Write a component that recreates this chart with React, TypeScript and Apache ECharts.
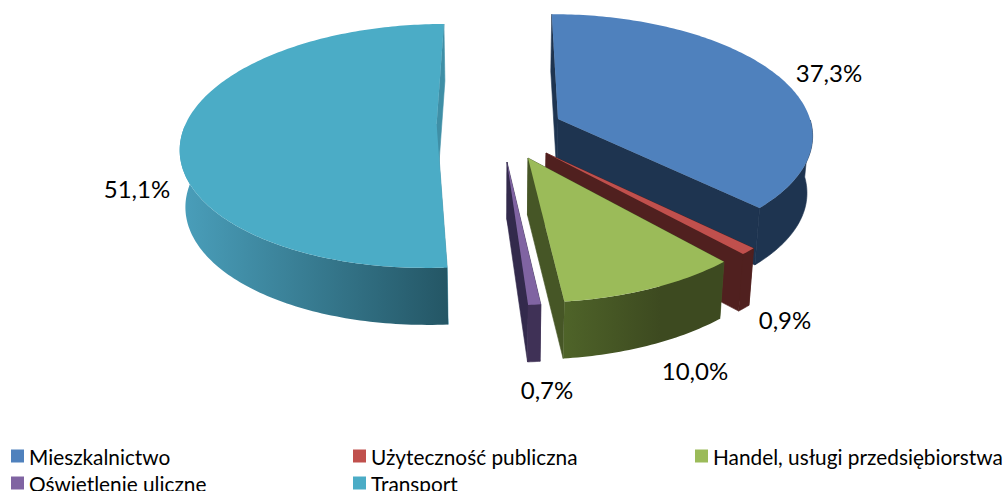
import React, { useEffect, useRef } from "react";
import * as echarts from "echarts";

const categories = ["Mieszkalnictwo", "Użyteczność publiczna", "Handel, usługi przedsiębiorstwa", "Oświetlenie uliczne", "Transport"];
const shares = [37.3, 0.9, 10.0, 0.7, 51.1];

const topColors = ["#4f81bd", "#c0504d", "#9bbb59", "#8064a2", "#4bacc6"];
const wallStops: [string, string][] = [
  ["#1e3450", "#1e3450"],
  ["#50201f", "#50201f"],
  ["#4f6429", "#3d4a20"],
  ["#3f3156", "#3f3156"],
  ["#4a9fbb", "#245665"],
];
const faceColors = ["#1e3450", "#50201f", "#465626", "#332a4c", "#3f8fa6"];
// Projection of each exploded slice: apex on screen, radii, perspective strength, convergence
const sliceFrames = [
  { tx: 558, ty: 119, a: 252, b: 117, k: 0.116, c: 60, gx0: 556, gx1: 810 },
  { tx: 546, ty: 153, a: 265, b: 127, k: 0.1, c: 48, gx0: 546, gx1: 753 },
  { tx: 528, ty: 158, a: 267, b: 131, k: 0.094, c: 30, gx0: 561, gx1: 660 },
  { tx: 507, ty: 162, a: 262, b: 129, k: 0.1, c: 9, gx0: 526, gx1: 540 },
  { tx: 436.6, ty: 124, a: 251, b: 118, k: 0.18, c: -48, gx0: 180, gx1: 448 },
];
const labelAnchors = [
  [829, 72],
  [785, 319],
  [695, 370],
  [547, 389],
  [137, 188],
];
const legendAnchors = [
  [11, 445.5],
  [353, 445.5],
  [695, 445.5],
  [11, 472.5],
  [353, 472.5],
];
const VANISH_X = 498;
const WALL = 57;
const WALL_LEAN = 0.018;
const FONT = "Lato";

const total = shares.reduce((s, v) => s + v, 0);
const starts: number[] = [];
shares.reduce((acc, v, i) => {
  starts[i] = acc;
  return acc + v;
}, 0);

function makeItem(i: number) {
  const f = sliceFrames[i];
  const t0 = (starts[i] / total) * Math.PI * 2;
  const t1 = ((starts[i] + shares[i]) / total) * Math.PI * 2;
  const top = (t: number): number[] => {
    const Y = -Math.cos(t);
    const s = 1 / (1 - f.k * Y);
    return [f.tx + f.a * Math.sin(t) * s + f.c * (s - 1), f.ty + f.b * Y * s];
  };
  const down = (p: number[]): number[] => [p[0] - (p[0] - VANISH_X) * WALL_LEAN, p[1] + WALL];
  const steps = Math.max(4, Math.ceil(((t1 - t0) * 180) / Math.PI));
  const arc: number[][] = [];
  const front: number[][] = [];
  for (let n = 0; n <= steps; n++) {
    const t = t0 + ((t1 - t0) * n) / steps;
    const p = top(t);
    arc.push(p);
    if (-Math.cos(t) >= 0) front.push(p);
  }
  const tip = [f.tx, f.ty];
  const tipB = down(tip);
  const first = arc[0];
  const last = arc[arc.length - 1];
  const poly = (points: number[][], fill: any, stroke?: string) => ({
    type: "polygon",
    shape: { points },
    style: stroke ? { fill, stroke, lineWidth: 0.6 } : { fill },
    silent: true,
  });
  const wallFill = new echarts.graphic.LinearGradient(f.gx0, 0, f.gx1, 0, [
    { offset: 0, color: wallStops[i][0] },
    { offset: 1, color: wallStops[i][1] },
  ], true);
  const solidWall = wallStops[i][0] === wallStops[i][1] ? wallStops[i][0] : undefined;
  const label = labelAnchors[i];
  return {
    type: "group",
    children: [
      poly([tip, first, down(first), tipB], faceColors[i], faceColors[i]),
      poly([tip, last, down(last), tipB], faceColors[i], faceColors[i]),
      poly([...front, ...front.map(down).reverse()], wallFill, solidWall),
      poly([tip, ...arc], topColors[i]),
      {
        type: "text",
        silent: true,
        style: {
          x: label[0],
          y: label[1],
          text: shares[i].toFixed(1).replace(".", ",") + "%",
          fill: "#000000",
          fontSize: 24,
          fontFamily: FONT,
          align: "center",
          verticalAlign: "middle",
        },
      },
    ],
  };
}

export default function App() {
  const ref = useRef<HTMLDivElement>(null);
  useEffect(() => {
    const chart = echarts.init(ref.current!, undefined, { renderer: "svg" });
    chart.setOption({
      animation: false,
      backgroundColor: "#ffffff",
      legend: categories.map((name, i) => ({
        data: [name],
        left: legendAnchors[i][0],
        top: legendAnchors[i][1],
        padding: 0,
        itemWidth: 13,
        itemHeight: 13,
        itemGap: 0,
        selectedMode: false,
        icon: "rect",
        textStyle: { fontFamily: FONT, fontSize: 20.8, lineHeight: 18, color: "#000000" },
      })),
      series: categories.map((name, i) => ({
        type: "custom",
        name,
        coordinateSystem: "none",
        data: [[shares[i]]],
        itemStyle: { color: topColors[i] },
        renderItem: () => makeItem(i),
      })),
    });
    return () => chart.dispose();
  }, []);
  return <div ref={ref} style={{ position: "fixed", left: 0, top: 0, width: 1006, height: 491 }} />;
}
